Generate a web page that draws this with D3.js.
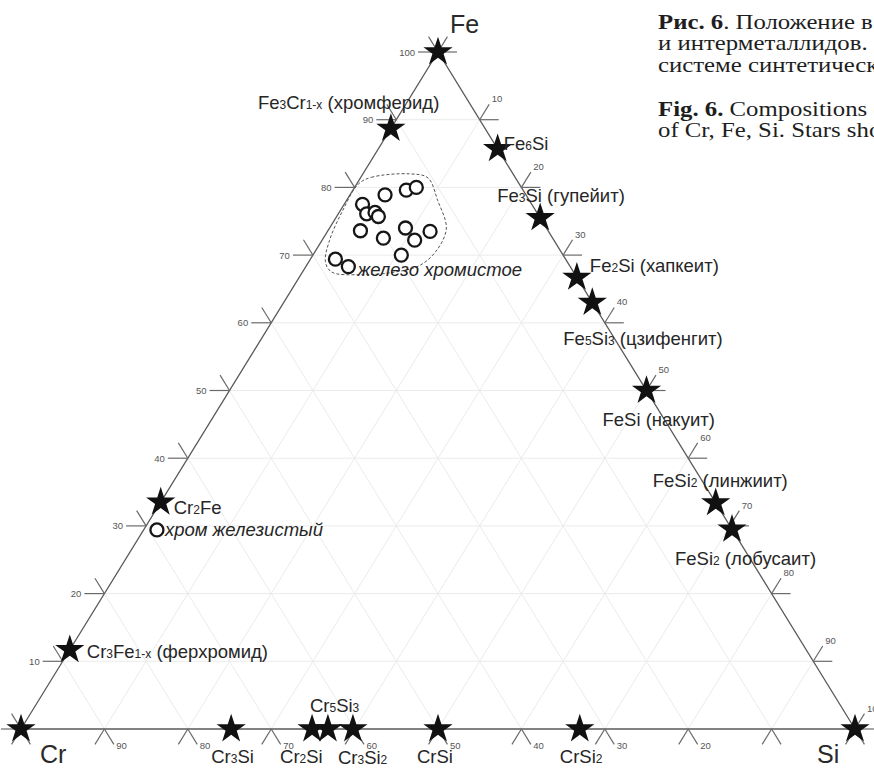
<!DOCTYPE html>
<html>
<head>
<meta charset="utf-8">
<script src="https://cdn.jsdelivr.net/npm/d3@7"></script>
<style>
  html, body { margin: 0; padding: 0; background: #fff; }
  svg { display: block; }
  text { white-space: pre; }
</style>
</head>
<body>
<svg id="chart" width="874" height="769"></svg>
<script>
// ---- Data: compositions in at.% (Cr = 100 - Fe - Si) ----

// Stars: known intermetallic phases and pure elements
const phaseLabels = [
  "", "Fe_3Cr_{1-x} (хромферид)", "Fe_6Si", "Fe_3Si (гупейит)", "Fe_2Si (хапкеит)",
  "Fe_5Si_3 (цзифенгит)", "FeSi (накуит)", "FeSi_2 (линжиит)", "FeSi_2 (лобусаит)", "",
  "Cr_2Fe", "Cr_3Fe_{1-x} (ферхромид)", "",
  "Cr_3Si", "Cr_2Si", "Cr_5Si_3", "Cr_3Si_2", "CrSi", "CrSi_2"
];
const phaseFe = [100, 88.7, 85.7, 75.5, 66.7, 63.0, 50.0, 33.4, 29.5, 0, 33.5, 11.7, 0, 0, 0, 0, 0, 0, 0];
const phaseSi = [0, 0, 14.3, 24.5, 33.3, 37.0, 50.0, 66.6, 70.5, 100, 0, 0, 0, 25.2, 34.9, 36.8, 39.8, 50.0, 67.0];

// Open circles: analysed grains of chromian iron (cluster) and ferrian chromium
const grainFe = [78.9, 79.6, 80.0, 77.5, 76.1, 76.3, 75.7, 73.6, 72.5, 74.0, 72.2, 73.5, 70.0, 69.4, 68.3, 29.4];
const grainSi = [4.2, 6.4, 7.4, 2.2, 3.4, 4.3, 5.0, 3.9, 7.2, 9.1, 11.1, 12.3, 10.6, 3.0, 5.1, 1.6];

// Dashed field outlining the chromian iron compositions
const fieldFe = [80.5, 81.5, 82.0, 81.4, 78.1, 74.0, 70.8, 68.5, 67.5, 67.1, 67.5, 69.0, 72.2, 76.4];
const fieldSi = [0.2, 1.3, 5.6, 8.1, 10.9, 14.0, 14.5, 13.6, 11.1, 7.1, 3.5, 2.0, 0.9, 0.3];

// Field names
const fieldNames = ["железо хромистое", "хром железистый"];

// Axis tick values
const tickValues = [0, 10, 20, 30, 40, 50, 60, 70, 80, 90, 100];
const leftTickLabels = [10, 20, 30, 40, 50, 60, 70, 80, 90, 100];
const rightTickLabels = [10, 20, 30, 40, 50, 60, 70, 80, 90, 100];
const bottomTickLabels = [20, 30, 40, 50, 60, 70, 80, 90];

// Corner names
const cornerNames = ["Cr", "Si", "Fe"];

// Caption lines
const captionRu = [["Рис. 6", ". Положение в"], ["", "и интерметаллидов."], ["", "системе синтетическ"]];
const captionEn = [["Fig. 6.", " Compositions o"], ["", "of Cr, Fe, Si. Stars sho"]];

// ---- Layout ----
const CR = [21, 729], SI = [855, 729], FE = [438, 52];

// label placement (offset of the text baseline start from the star)
const phaseLabelOffset = [
  null, [-133, -20], [6, 1], [-43, -16], [13, -5],
  [-29, 43], [-44, 35], [-63, -16], [-57, 36], null,
  [13, 12], [17, 8], null,
  [-20, 34], [-32, 34], [-18, -17], [-15, 35], [-21, 34], [-20, 34]
];

const svg = d3.select("#chart");

// ternary projection built from linear scales
const yFe = d3.scaleLinear().domain([0, 100]).range([CR[1], FE[1]]);
const xSi = d3.scaleLinear().domain([0, 100]).range([0, SI[0] - CR[0]]);
const xFe = d3.scaleLinear().domain([0, 100]).range([0, FE[0] - CR[0]]);
const pt = (fe, si) => [CR[0] + xSi(si) + xFe(fe), yFe(fe)];

function unit(a, b) {
  const dx = b[0] - a[0], dy = b[1] - a[1], l = Math.hypot(dx, dy);
  return [dx / l, dy / l];
}

// ---- grid ----
const gridG = svg.append("g").attr("stroke", "#ebebeb").attr("stroke-width", 1).attr("fill", "none");
const gridVals = tickValues.filter(v => v > 0 && v < 100);
gridVals.forEach(v => {
  [[pt(v, 0), pt(v, 100 - v)], [pt(0, v), pt(100 - v, v)], [pt(100 - v, 0), pt(0, 100 - v)]]
    .forEach(seg => gridG.append("line")
      .attr("x1", seg[0][0]).attr("y1", seg[0][1]).attr("x2", seg[1][0]).attr("y2", seg[1][1]));
});

// ---- triangle edges ----
svg.append("path")
  .attr("d", d3.line()([pt(0, 0), pt(0, 100), pt(100, 0)]) + "Z")
  .attr("fill", "none").attr("stroke", "#5a5a5a").attr("stroke-width", 1.3);

// ---- ticks ----
const tickG = svg.append("g").attr("stroke", "#6a6a6a").attr("stroke-width", 1.2);
const labG = svg.append("g").attr("font-family", "Liberation Sans, Arial, sans-serif")
  .attr("font-size", 9.5).attr("fill", "#555");

const upLeft = unit(SI, FE), upRight = unit(CR, FE), downLeft = unit(FE, CR), downRight = unit(FE, SI);
const TL = 18;

// left axis: Fe %
tickValues.forEach(v => {
  const p = pt(v, 0);
  tickG.append("line").attr("x1", p[0]).attr("y1", p[1]).attr("x2", p[0] - 20).attr("y2", p[1]);
  tickG.append("line").attr("x1", p[0]).attr("y1", p[1])
    .attr("x2", p[0] + upLeft[0] * TL).attr("y2", p[1] + upLeft[1] * TL);
  if (leftTickLabels.includes(v))
    labG.append("text").attr("x", p[0] - 23).attr("y", p[1] + 3.5)
      .attr("text-anchor", "end").text(v);
});

// right axis: Si %
tickValues.forEach(v => {
  const p = pt(100 - v, v);
  tickG.append("line").attr("x1", p[0]).attr("y1", p[1]).attr("x2", p[0] + 19).attr("y2", p[1]);
  const e = [p[0] + upRight[0] * TL, p[1] + upRight[1] * TL];
  tickG.append("line").attr("x1", p[0]).attr("y1", p[1]).attr("x2", e[0]).attr("y2", e[1]);
  if (rightTickLabels.includes(v))
    labG.append("text").attr("x", e[0] + 2.5).attr("y", e[1] - 2).text(v);
});

// bottom axis: Cr %
tickValues.forEach(v => {
  const p = pt(0, 100 - v);
  tickG.append("line").attr("x1", p[0]).attr("y1", p[1])
    .attr("x2", p[0] + downLeft[0] * TL).attr("y2", p[1] + downLeft[1] * TL);
  const e = [p[0] + downRight[0] * TL, p[1] + downRight[1] * TL];
  tickG.append("line").attr("x1", p[0]).attr("y1", p[1]).attr("x2", e[0]).attr("y2", e[1]);
  if (bottomTickLabels.includes(v))
    labG.append("text").attr("x", e[0] + 2.5).attr("y", e[1] + 5).text(v);
});

// ---- dashed field ----
const fieldPts = fieldFe.map((f, i) => pt(f, fieldSi[i]));
svg.append("path")
  .attr("d", d3.line().curve(d3.curveCatmullRomClosed.alpha(0.5))(fieldPts))
  .attr("fill", "none").attr("stroke", "#555").attr("stroke-width", 1)
  .attr("stroke-dasharray", "3,2");

// ---- open circles ----
svg.append("g").selectAll("circle")
  .data(grainFe.map((f, i) => pt(f, grainSi[i])))
  .join("circle")
  .attr("cx", d => d[0]).attr("cy", d => d[1]).attr("r", 6.5)
  .attr("fill", "#fff").attr("stroke", "#161616").attr("stroke-width", 2.3);

// ---- stars ----
const star = d3.symbol().type(d3.symbolStar).size(265);
svg.append("g").selectAll("path")
  .data(phaseFe.map((f, i) => pt(f, phaseSi[i])))
  .join("path")
  .attr("transform", d => `translate(${d[0]},${d[1]})`)
  .attr("d", star).attr("fill", "#111");

// ---- phase labels (with subscripts) ----
function richText(sel, str, base, sub) {
  const re = /_\{([^}]*)\}|_([0-9])|([^_]+)/g;
  let m;
  while ((m = re.exec(str)) !== null) {
    if (m[3] !== undefined) sel.append("tspan").attr("font-size", base).text(m[3]);
    else sel.append("tspan").attr("font-size", sub).text(m[1] !== undefined ? m[1] : m[2]);
  }
}
const phaseG = svg.append("g").attr("font-family", "Liberation Sans, Arial, sans-serif").attr("fill", "#262626");
phaseLabels.forEach((lab, i) => {
  if (!lab) return;
  const p = pt(phaseFe[i], phaseSi[i]), o = phaseLabelOffset[i];
  const t = phaseG.append("text").attr("x", p[0] + o[0]).attr("y", p[1] + o[1]);
  richText(t, lab, 18.5, 12);
});

// ---- field names ----
const fieldG = svg.append("g").attr("font-family", "Liberation Sans, Arial, sans-serif")
  .attr("font-style", "italic").attr("font-size", 18.5).attr("fill", "#262626");
const clusterLow = pt(grainFe[13], grainSi[13]);
fieldG.append("text").attr("x", clusterLow[0] + 22).attr("y", clusterLow[1] + 17).text(fieldNames[0]);
const single = pt(grainFe[15], grainSi[15]);
fieldG.append("text").attr("x", single[0] + 8).attr("y", single[1] + 6).text(fieldNames[1]);

// ---- corner names ----
const cornerG = svg.append("g").attr("font-family", "Liberation Sans, Arial, sans-serif")
  .attr("font-size", 25).attr("fill", "#2a2a2a");
cornerG.append("text").attr("x", CR[0] + 19).attr("y", CR[1] + 34).text(cornerNames[0]);
cornerG.append("text").attr("x", SI[0] - 38).attr("y", SI[1] + 34).text(cornerNames[1]);
cornerG.append("text").attr("x", FE[0] + 12).attr("y", FE[1] - 19).text(cornerNames[2]);

// ---- caption (slightly widened serif face) ----
const capG = svg.append("g")
  .attr("transform", "translate(658,0) scale(1.18,1)")
  .attr("font-family", "Liberation Serif, Times New Roman, serif")
  .attr("font-size", 21).attr("fill", "#1e1e1e");
function captionLine(parts, y) {
  const t = capG.append("text").attr("x", 0).attr("y", y);
  if (parts[0]) t.append("tspan").attr("font-weight", "bold").text(parts[0]);
  t.append("tspan").text(parts[1]);
}
captionRu.forEach((p, i) => captionLine(p, 29 + i * 21.5));
captionEn.forEach((p, i) => captionLine(p, 116 + i * 21.5));
</script>
</body>
</html>
